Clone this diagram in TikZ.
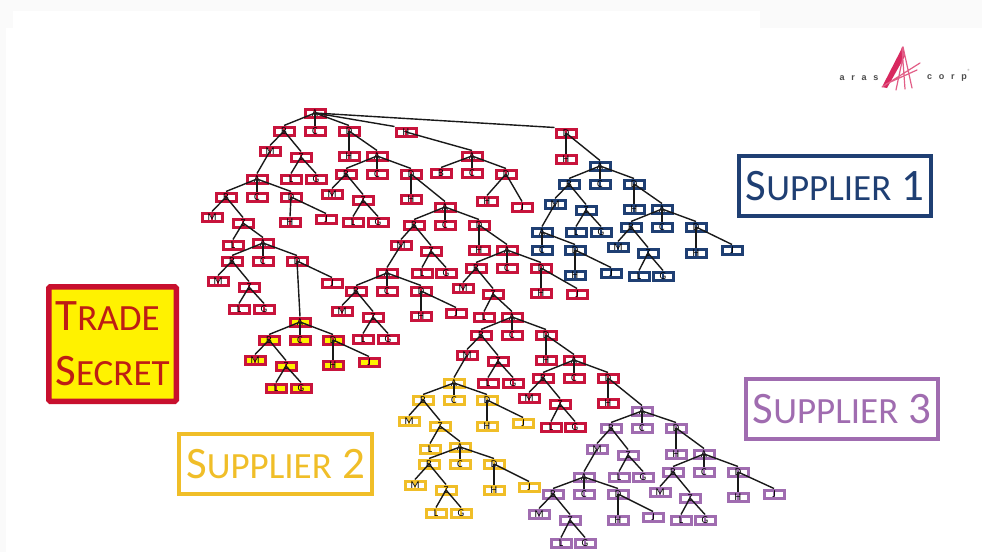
\documentclass[tikz,border=0pt]{standalone}
\usepackage{fontspec}
\setmainfont{Carlito}
\newfontfamily\logofont[LetterSpace=75]{Liberation Sans}
\definecolor{partred}{HTML}{C8143C}
\definecolor{partblue}{HTML}{1F3F73}
\definecolor{partyellow}{HTML}{F0BE28}
\definecolor{partpurple}{HTML}{A06CB0}
\definecolor{secretred}{HTML}{C8102E}
\definecolor{secrettext}{HTML}{BE1E14}
\definecolor{logopink}{HTML}{D8285F}
\newcommand{\lowcaps}[1]{{\fontsize{37}{37}\selectfont #1}}
\begin{document}
\begin{tikzpicture}
	[x=1pt,y=-1pt,
	part/.style={draw=#1,line width=3pt,minimum width=20pt,minimum height=8pt,inner sep=0pt,
		font=\fontsize{10.5}{10.5}\selectfont,text=black,text height=6.6pt,text depth=0pt,
		path picture={\draw[#1,line width=1.8pt] (path picture bounding box.north) -- (path picture bounding box.south);}},
	link/.style={draw=black!90,line width=1.4pt},
	label box/.style={draw=#1,text=#1,line width=4pt,minimum width=192.5pt,minimum height=60.5pt,inner sep=0pt,
		font=\fontsize{45}{45}\selectfont},
	logo text/.style={text=black!70,font=\logofont\bfseries\fontsize{9}{9}\selectfont}]
	\useasboundingbox (0,0) rectangle (982,552);
	\fill[black!2] (0,0) rectangle (982,552);
	\fill[white] (12.5,11) rectangle (760,28);
	\fill[white] (6,27.5) rectangle (982,552);
	% red tree
	\foreach \n/\x/\y/\t in {
		a1/315/113/A, b1/284/131/B, c1/315/131/C, d1/349/131/D, m1/270/151/M, z1/301/157/Z, l1/291/179/L, g1/316/179/G, h1/349/156/H,
		h0/406/132/H, d0/566/133/D, e0/566/159/H,
		a2/377/156/A, b2/346/174/B, c2/377/174/C, d2/411/174/D, m2/332/194/M, z2/363/200/Z, l2/353/222/L, g2/378/222/G, h2/411/199/H,
		a3/445/207/A, b3/414/225/B, c3/445/225/C, d3/479/225/D, m3/401/245/M, z3/431/251/Z, l3/422/273/L, g3/446/273/G, h3/479/250/H,
		a4/387/273/A, b4/356/291/B, c4/387/291/C, d4/421/291/D, m4/342/311/M, z4/373/317/Z, l4/363/339/L, g4/388/339/G, h4/421/316/H, j4/456/313/J,
		a5/507/250/A, b5/476/268/B, c5/507/268/C, d5/541/268/D, m5/463/288/M, z5/493/294/Z, l5/484/317/L, h5/541/293/H, j5/577/294/J,
		a6/512/317/A, b6/481/335/B, c6/512/335/C, d6/546/335/D, m6/467/355/M, z6/498/361/Z, l6/488/383/L, g6/513/383/G, h6/546/360/H,
		a7/574/360/A, b7/543/378/B, c7/574/378/C, d7/608/378/D, m7/529/398/M, z7/560/404/Z, l7/551/427/L, g7/575/427/G, h7/608/403/H,
		a8/257/179/A, b8/226/197/B, c8/257/197/C, d8/291/197/D, m8/212/217/M, z8/243/223/Z, l8/233/245/L, h8/290/222/H, j8/326/219/J,
		a9/263/243/A, b9/232/261/B, c9/263/261/C, d9/297/261/D, m9/218/281/M, z9/249/287/Z, l9/239/309/L, g9/264/309/G, j9/332/283/J,
		a10/472/156/A, b10/441/173/B, c10/472/173/C, d10/506/174/D, h10/487/201/H, j10/522/207/J}
		\node[part=partred] (\n) at (\x,\y) {\t};
	% trade secret part of the red tree
	\foreach \n/\x/\y/\t in {
		ta/300/322/A, tb/269/340/B, tc/300/340/C, td/333/340/D, tm/255/360/M, tz/286/366/Z, tl/276/388/L, tg/301/388/G, th/333/365/H, tj/369/362/J}
		\node[part=partred,fill=yellow] (\n) at (\x,\y) {\t};
	% supplier 1
	\foreach \n/\x/\y/\t in {
		na/600/166/A, nb/569/184/B, nc/600/184/C, nd/634/184/D, nm/555/204/M, nz/586/210/Z, nl/576/232/L, ng/601/232/G, nh/634/209/H,
		oa/542/232/A, oc/542/250/C, od/575/250/D, oh/575/275/H, oj/611/273/J,
		qa/662/209/A, qb/631/227/B, qc/662/227/C, qd/696/227/D, qm/618/247/M, qz/648/253/Z, ql/639/276/L, qg/663/276/G, qh/696/253/H, qj/732/250/J}
		\node[part=partblue] (\n) at (\x,\y) {\t};
	% supplier 2
	\foreach \n/\x/\y/\t in {
		ya/454/383/A, yb/423/400/B, yc/454/400/C, yd/487/400/D, ym/409/421/M, yz/440/426/Z, yl/430/449/L, yh/487/426/H, yj/523/423/J,
		ua/460/447/A, ub/429/464/B, uc/460/464/C, ud/494/464/D, um/415/485/M, uz/446/490/Z, ul/436/513/L, ug/461/513/G, uh/494/490/H, uj/529/487/J}
		\node[part=partyellow] (\n) at (\x,\y) {\t};
	% supplier 3
	\foreach \n/\x/\y/\t in {
		pa/642/411/A, pb/611/428/B, pc/642/428/C, pd/676/428/D, pm/597/449/M, pz/628/455/Z, pl/619/477/L, pg/643/477/G, ph/676/454/H,
		ra/584/477/A, rb/553/494/B, rc/584/494/C, rd/618/494/D, rm/539/514/M, rz/570/520/Z, rl/561/543/L, rg/585/543/G, rh/618/520/H, rj/653/517/J,
		sa/704/454/A, sb/673/472/B, sc/704/472/C, sd/738/472/D, sm/660/492/M, sz/690/498/Z, sl/681/520/L, sg/705/520/G, sh/738/497/H, sj/774/494/J}
		\node[part=partpurple] (\n) at (\x,\y) {\t};
	% connectors
	\foreach \a/\b in {
		a1/b1, a1/c1, a1/d1, b1/m1, b1/z1, z1/l1, z1/g1, d1/h1, d1/a2, m1/a8,
		d0/e0, d0/na, h0/a10,
		a2/b2, a2/c2, a2/d2, b2/m2, b2/z2, z2/l2, z2/g2, d2/h2, d2/a3,
		a3/b3, a3/c3, a3/d3, b3/m3, b3/z3, z3/l3, z3/g3, d3/h3, d3/a5, m3/a4,
		a4/b4, a4/c4, a4/d4, b4/m4, b4/z4, z4/l4, z4/g4, d4/h4, d4/j4,
		a5/b5, a5/c5, a5/d5, b5/m5, b5/z5, z5/l5, z5/a6, d5/h5, d5/j5,
		a6/b6, a6/c6, a6/d6, b6/m6, b6/z6, z6/l6, z6/g6, d6/h6, d6/a7, m6/ya,
		a7/b7, a7/c7, a7/d7, b7/m7, b7/z7, z7/l7, z7/g7, d7/h7, d7/pa,
		a8/b8, a8/c8, a8/d8, b8/m8, b8/z8, z8/l8, z8/a9, d8/h8, d8/j8,
		a9/b9, a9/c9, a9/d9, b9/m9, b9/z9, z9/l9, z9/g9, d9/j9, d9/ta,
		a10/b10, a10/c10, a10/d10, d10/h10, d10/j10,
		ta/tb, ta/tc, ta/td, tb/tm, tb/tz, tz/tl, tz/tg, td/th, td/tj,
		na/nb, na/nc, na/nd, nb/nm, nb/nz, nz/nl, nz/ng, nd/nh, nd/qa, nm/oa,
		oa/oc, oa/od, od/oh, od/oj,
		qa/qb, qa/qc, qa/qd, qb/qm, qb/qz, qz/ql, qz/qg, qd/qh, qd/qj,
		ya/yb, ya/yc, ya/yd, yb/ym, yb/yz, yz/yl, yz/ua, yd/yh, yd/yj,
		ua/ub, ua/uc, ua/ud, ub/um, ub/uz, uz/ul, uz/ug, ud/uh, ud/uj,
		pa/pb, pa/pc, pa/pd, pb/pm, pb/pz, pz/pl, pz/pg, pd/ph, pd/sa, pm/ra,
		ra/rb, ra/rc, ra/rd, rb/rm, rb/rz, rz/rl, rz/rg, rd/rh, rd/rj,
		sa/sb, sa/sc, sa/sd, sb/sm, sb/sz, sz/sl, sz/sg, sd/sh, sd/sj}
		\draw[link] (\a.center) -- (\b.north);
	\draw[link] (a1.center) -- (h0.north west);
	\draw[link] (a1.center) -- (d0.north west);
	% labels
	\node[label box=partblue] (supplierone) at (835,186) {S\lowcaps{UPPLIER} 1};
	\node[label box=partyellow] (suppliertwo) at (275.5,464) {S\lowcaps{UPPLIER} 2};
	\node[label box=partpurple] (supplierthree) at (842,409) {S\lowcaps{UPPLIER} 3};
	\node[draw=secretred,fill=yellow,text=secrettext,line width=5.5pt,rounded corners=1.5pt,minimum width=127.5pt,minimum height=114.5pt,inner sep=0pt,align=left,
		font=\fontsize{45}{55}\selectfont] (secret) at (112.5,344)
		{T\lowcaps{RADE}\\S\lowcaps{ECRET}};
	% logo
	\node[logo text] (arastext) at (859,78) {aras};
	\node[logo text] (corptext) at (947,78) {corp};
	\node[text=black!45,font=\fontsize{6}{6}\selectfont] (regmark) at (969,71) {\textregistered};
	\fill[logopink] (903,46) -- (882,87) -- (887,88) -- (905,56) -- cycle;
	\draw[logopink!75,line width=1.2pt,line cap=round] (903,47) -- (912,88) (902,48) -- (905,89) (904,52) -- (896,90) (882,87) -- (920,63) (886,84) -- (917,70);
\end{tikzpicture}
\end{document}
